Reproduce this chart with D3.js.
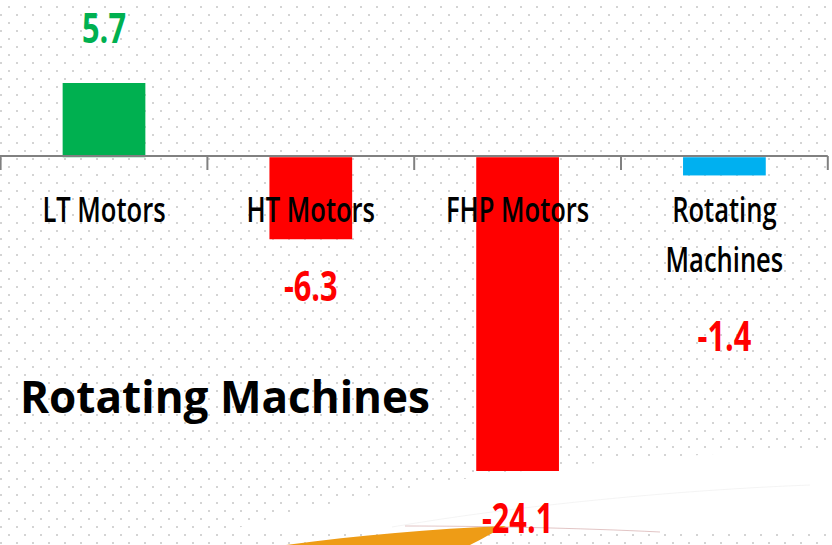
<!DOCTYPE html>
<meta charset='utf-8'>
<style>
  body { margin: 0; background: #ffffff; }
  svg { display: block; }
  .catText { font-family: 'Open Sans', sans-serif; font-size: 35px; font-weight: 600; fill: #000000; }
  .valText { font-family: 'Open Sans', sans-serif; font-size: 41px; font-weight: 700; }
  .title { font-family: 'Open Sans', sans-serif; font-size: 44px; font-weight: 700; fill: #000000; }
</style>
<body>
<div id='viz'></div>
<script src='https://d3js.org/d3.v7.min.js'></script>
<script>

// Chart data
var categories = ['LT Motors', 'HT Motors', 'FHP Motors', 'Rotating Machines'];
var values     = [5.7, -6.3, -24.1, -1.4];
var barColors  = ['#00B050', '#FF0000', '#FF0000', '#00B0F0'];
var labels     = ['5.7', '-6.3', '-24.1', '-1.4'];
var chartTitle = 'Rotating Machines';

var width = 832, height = 545;
var catSqueeze = 0.73, valSqueeze = 0.75; // chart texts look horizontally compressed

var svg = d3.select('#viz').append('svg')
    .attr('width', width)
    .attr('height', height);

// dotted slide background
var defs = svg.append('defs');
var pat = defs.append('pattern')
    .attr('id', 'dots')
    .attr('patternUnits', 'userSpaceOnUse')
    .attr('width', 16).attr('height', 16);
pat.append('rect').attr('x', 8).attr('y', 6).attr('width', 2).attr('height', 2).attr('fill', '#d4d4d4');
pat.append('rect').attr('x', 0).attr('y', 14).attr('width', 2).attr('height', 2).attr('fill', '#d4d4d4');

svg.append('rect').attr('width', width).attr('height', height).attr('fill', '#ffffff');
svg.append('rect').attr('width', width).attr('height', height).attr('fill', 'url(#dots)');

// white swoosh of the slide template hiding the dots
svg.append('path')
    .attr('d', 'M225,532 C330,498 520,458 832,449 L832,531 Z')
    .attr('fill', '#ffffff');
svg.append('path')
    .attr('d', 'M392,527 C520,505 680,490 810,485')
    .attr('fill', 'none').attr('stroke', '#ececec').attr('stroke-width', 1).attr('opacity', 0.6);
svg.append('path')
    .attr('d', 'M405,526 C480,526 580,528 660,532')
    .attr('fill', 'none').attr('stroke', '#a04040').attr('stroke-width', 1).attr('opacity', 0.3);
svg.append('path')
    .attr('d', 'M286,545 C360,535 430,529 506,526 C492,533 480,540 470,545 Z')
    .attr('fill', '#EE9C16');

// scales
var x = d3.scaleBand()
    .domain(categories)
    .range([0.6, 827.8])
    .paddingInner(0.6)
    .paddingOuter(0.3);

var y = d3.scaleLinear()
    .domain([d3.min(values), d3.max(values)])
    .range([471, 83]);

var data = categories.map(function(c, i) {
  return {cat: c, value: values[i], color: barColors[i], label: labels[i]};
});

// bars
svg.selectAll('.bar')
    .data(data)
    .enter().append('rect')
    .attr('class', 'bar')
    .attr('x', function(d) { return x(d.cat); })
    .attr('width', x.bandwidth())
    .attr('y', function(d) { return Math.min(y(d.value), y(0)); })
    .attr('height', function(d) { return Math.abs(y(d.value) - y(0)); })
    .attr('fill', function(d) { return d.color; });

// category axis: line plus ticks between categories
var axisY = Math.round(y(0)) - 1;
var x0 = x.range()[0];
svg.append('line')
    .attr('x1', 0).attr('x2', x.range()[1])
    .attr('y1', axisY).attr('y2', axisY)
    .attr('stroke', '#808080').attr('stroke-width', 2);
svg.selectAll('.tick')
    .data(d3.range(categories.length + 1))
    .enter().append('line')
    .attr('class', 'tick')
    .attr('x1', function(i) { return x0 + i * x.step(); })
    .attr('x2', function(i) { return x0 + i * x.step(); })
    .attr('y1', axisY).attr('y2', axisY + 14)
    .attr('stroke', '#808080').attr('stroke-width', 2);

// category labels (wrapped when too wide for the band)
var firstBase = 222, lineGap = 50;
var catG = svg.selectAll('.cat')
    .data(data)
    .enter().append('g')
    .attr('class', 'cat');

catG.each(function(d) {
  var g = d3.select(this);
  var cx = x(d.cat) + x.bandwidth() / 2;
  var probe = g.append('text').attr('class', 'catText').text(d.cat);
  var w = probe.node().getComputedTextLength() * catSqueeze;
  probe.remove();
  var lines = w > x.step() * 0.9 ? d.cat.split(' ') : [d.cat];
  d.lastBase = firstBase + (lines.length - 1) * lineGap;
  lines.forEach(function(t, k) {
    g.append('text')
      .attr('class', 'catText')
      .attr('text-anchor', 'middle')
      .attr('transform', 'translate(' + cx + ',' + (firstBase + k * lineGap) + ') scale(' + catSqueeze + ',1)')
      .text(t);
  });
});

// value labels
svg.selectAll('.val')
    .data(data)
    .enter().append('text')
    .attr('class', 'valText')
    .attr('text-anchor', 'middle')
    .attr('fill', function(d) { return d.value >= 0 ? '#00B050' : '#FF0000'; })
    .attr('transform', function(d) {
      var cx = x(d.cat) + x.bandwidth() / 2;
      var by = d.value >= 0 ? y(d.value) - 40
                            : Math.max(y(d.value) + 62, d.lastBase + 79);
      return 'translate(' + cx + ',' + by + ') scale(' + valSqueeze + ',1)';
    })
    .text(function(d) { return d.label; });

// slide title
svg.append('text')
    .attr('class', 'title')
    .attr('x', 20)
    .attr('y', 413)
    .attr('textLength', 410)
    .attr('lengthAdjust', 'spacingAndGlyphs')
    .text(chartTitle);

</script>
</body>
